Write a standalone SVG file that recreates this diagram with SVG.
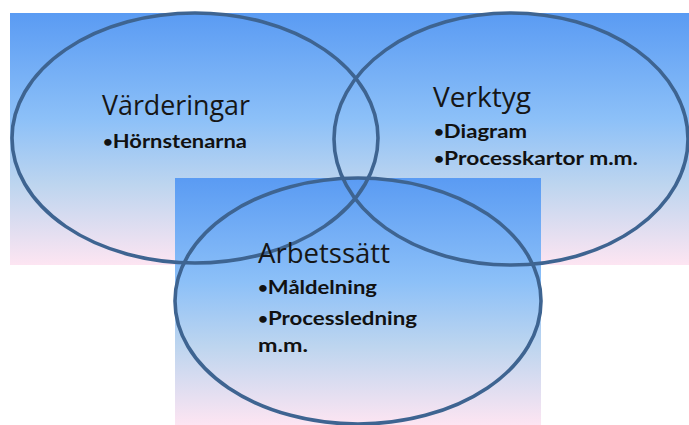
<svg xmlns="http://www.w3.org/2000/svg" width="689" height="425" viewBox="0 0 689 425">
  <defs>
    <linearGradient id="sky" x1="0" y1="0" x2="0" y2="1">
      <stop offset="0" stop-color="#5a9bf3"/>
      <stop offset="0.42" stop-color="#8cc0f8"/>
      <stop offset="0.68" stop-color="#bdd5ef"/>
      <stop offset="1" stop-color="#fde5f2"/>
    </linearGradient>
    <style>
      .ring { fill: none; stroke: #3e6491; stroke-width: 3.6; }
      .title { font-family: "Open Sans", "Liberation Sans", sans-serif; font-size: 27px; fill: #161616; }
      .item { font-family: Lato, "Liberation Sans", sans-serif; font-size: 19.5px; font-weight: bold; fill: #111111; }
      .dot { font-size: 15px; }
    </style>
  </defs>

  <rect width="689" height="425" fill="#ffffff"/>

  <!-- backdrop panels -->
  <rect x="10" y="13" width="679" height="252" fill="url(#sky)"/>
  <rect x="175" y="178" width="366" height="247" fill="url(#sky)"/>

  <g id="varderingar">
    <ellipse class="ring" cx="195" cy="138" rx="183" ry="125"/>
    <text class="title" x="102" y="115" textLength="148" lengthAdjust="spacingAndGlyphs">Värderingar</text>
    <text class="item" x="103" y="148" textLength="144" lengthAdjust="spacingAndGlyphs"><tspan class="dot" dy="-1.5">•</tspan><tspan dy="1.5">Hörnstenarna</tspan></text>
  </g>

  <g id="verktyg">
    <ellipse class="ring" cx="511" cy="139" rx="177" ry="126"/>
    <text class="title" x="433" y="107" textLength="98" lengthAdjust="spacingAndGlyphs">Verktyg</text>
    <text class="item" x="434" y="138" textLength="93" lengthAdjust="spacingAndGlyphs"><tspan class="dot" dy="-1.5">•</tspan><tspan dy="1.5">Diagram</tspan></text>
    <text class="item" x="434" y="165" textLength="204" lengthAdjust="spacingAndGlyphs"><tspan class="dot" dy="-1.5">•</tspan><tspan dy="1.5">Processkartor m.m.</tspan></text>
  </g>

  <g id="arbetssatt">
    <ellipse class="ring" cx="358" cy="301" rx="183" ry="123"/>
    <text class="title" x="258" y="263" textLength="132" lengthAdjust="spacingAndGlyphs">Arbetssätt</text>
    <text class="item" x="258" y="294" textLength="119" lengthAdjust="spacingAndGlyphs"><tspan class="dot" dy="-1.5">•</tspan><tspan dy="1.5">Måldelning</tspan></text>
    <text class="item" x="258" y="325" textLength="159" lengthAdjust="spacingAndGlyphs"><tspan class="dot" dy="-1.5">•</tspan><tspan dy="1.5">Processledning</tspan></text>
    <text class="item" x="258" y="352" textLength="50" lengthAdjust="spacingAndGlyphs">m.m.</text>
  </g>

  <g id="connectors"/>
</svg>
